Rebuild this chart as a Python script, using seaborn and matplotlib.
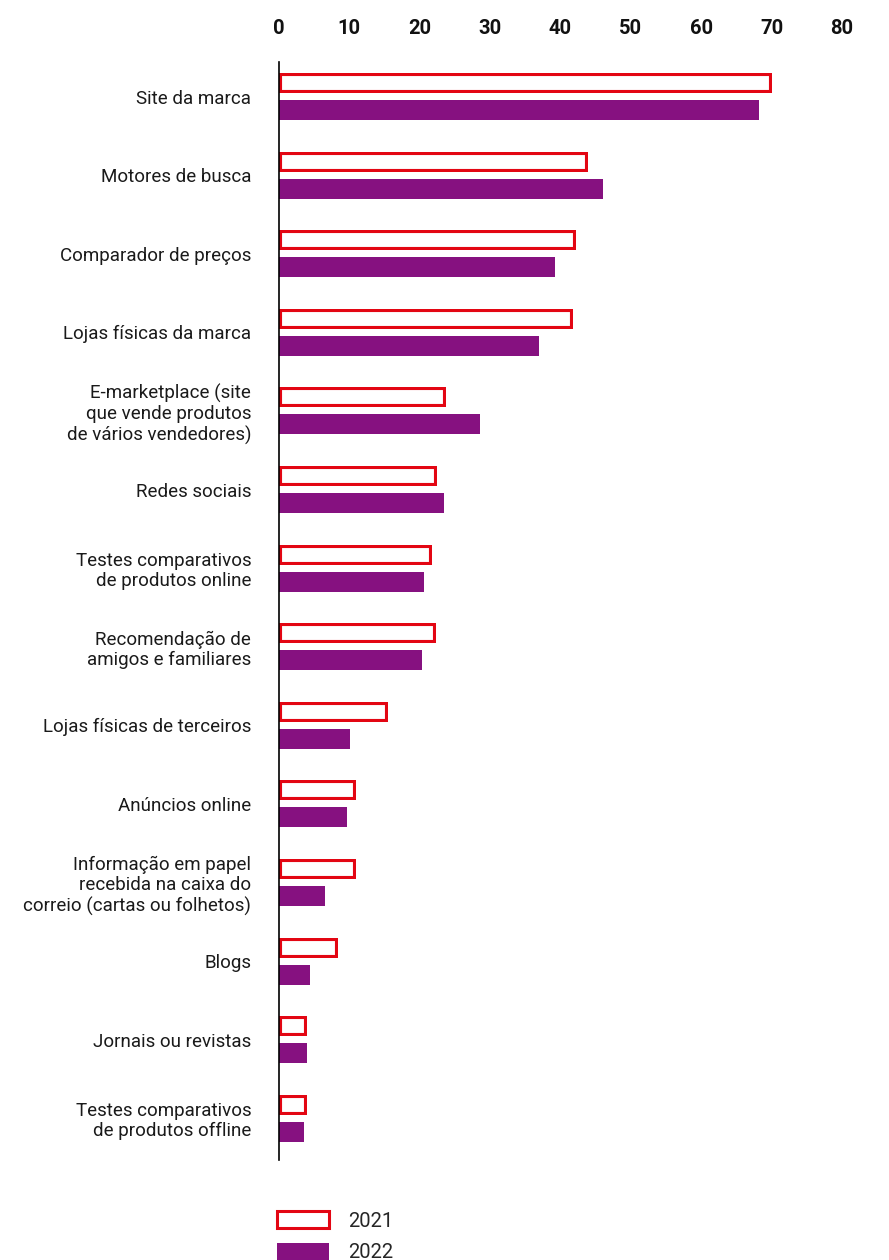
import matplotlib
matplotlib.use("Agg")
import matplotlib.pyplot as plt
from matplotlib.patches import Patch
import pandas as pd
import seaborn as sns

categories = [
    "Site da marca",
    "Motores de busca",
    "Comparador de preços",
    "Lojas físicas da marca",
    "E-marketplace (site\nque vende produtos\nde vários vendedores)",
    "Redes sociais",
    "Testes comparativos\nde produtos online",
    "Recomendação de\namigos e familiares",
    "Lojas físicas de terceiros",
    "Anúncios online",
    "Informação em papel\nrecebida na caixa do\ncorreio (cartas ou folhetos)",
    "Blogs",
    "Jornais ou revistas",
    "Testes comparativos\nde produtos offline",
]
values_2021 = [70.0, 43.9, 42.2, 41.8, 23.7, 22.4, 21.7, 22.3, 15.5, 10.9, 10.9, 8.4, 4.0, 4.0]
values_2022 = [68.2, 46.0, 39.2, 36.9, 28.6, 23.5, 20.6, 20.3, 10.1, 9.6, 6.6, 4.4, 4.0, 3.6]
years = ["2021", "2022"]
x_ticks = [0, 10, 20, 30, 40, 50, 60, 70, 80]

RED = "#e30613"
PURPLE = "#861180"

df = pd.DataFrame({
    "categoria": categories * 2,
    "ano": [years[0]] * len(categories) + [years[1]] * len(categories),
    "valor": values_2021 + values_2022,
})

sns.set_theme(style="white")
plt.rcParams["font.family"] = ["Roboto", "DejaVu Sans"]

fig = plt.figure(figsize=(8.89, 12.6), dpi=100)
ax = fig.add_axes([0.3138, 0.0794, 0.6333, 0.8714])

sns.barplot(
    data=df, x="valor", y="categoria", hue="ano", order=categories,
    hue_order=years, palette=[RED, PURPLE], orient="h",
    width=0.687, gap=0.26, ax=ax, legend=False, saturation=1,
)

# 2021 bars: white boxes with a red outline drawn inside the bar
for bar in ax.containers[0]:
    bar.set_facecolor("white")
    bar.set_edgecolor(RED)
    bar.set_linewidth(4.4)
    bar.set_clip_path(bar)
for bar in ax.containers[1]:
    bar.set_facecolor(PURPLE)
    bar.set_edgecolor("none")
    bar.set_linewidth(0)

ax.set_xlim(0, 80)
ax.set_ylim(len(categories) - 0.47, -0.44)
ax.set_xticks(x_ticks)
ax.set_xticklabels([str(t) for t in x_ticks], fontsize=14.5, fontweight="bold", color="#111111")
ax.xaxis.tick_top()
ax.tick_params(axis="x", length=0, pad=17)
ax.tick_params(axis="y", length=0, pad=20)
for lbl in ax.get_yticklabels():
    lbl.set_fontsize(13.5)
    lbl.set_color("#1a1a1a")
    lbl.set_horizontalalignment("right")
    lbl.set_multialignment("right")
    lbl.set_linespacing(1.15)
ax.set_xlabel("")
ax.set_ylabel("")

for side in ["top", "right", "bottom"]:
    ax.spines[side].set_visible(False)
ax.spines["left"].set_color("black")
ax.spines["left"].set_linewidth(1.2)
ax.grid(False)

handles = [
    Patch(facecolor="white", edgecolor=RED, linewidth=2.2, label=years[0]),
    Patch(facecolor=PURPLE, edgecolor="none", label=years[1]),
]
fig.legend(
    handles=handles, loc="upper left",
    bbox_to_anchor=(277 / 889, 1 - 1211 / 1260),
    frameon=False, fontsize=14.5, handlelength=2.6, handleheight=0.95,
    handletextpad=0.95, labelspacing=0.6, borderpad=0, borderaxespad=0,
)

fig.savefig("out.png", dpi=100)
